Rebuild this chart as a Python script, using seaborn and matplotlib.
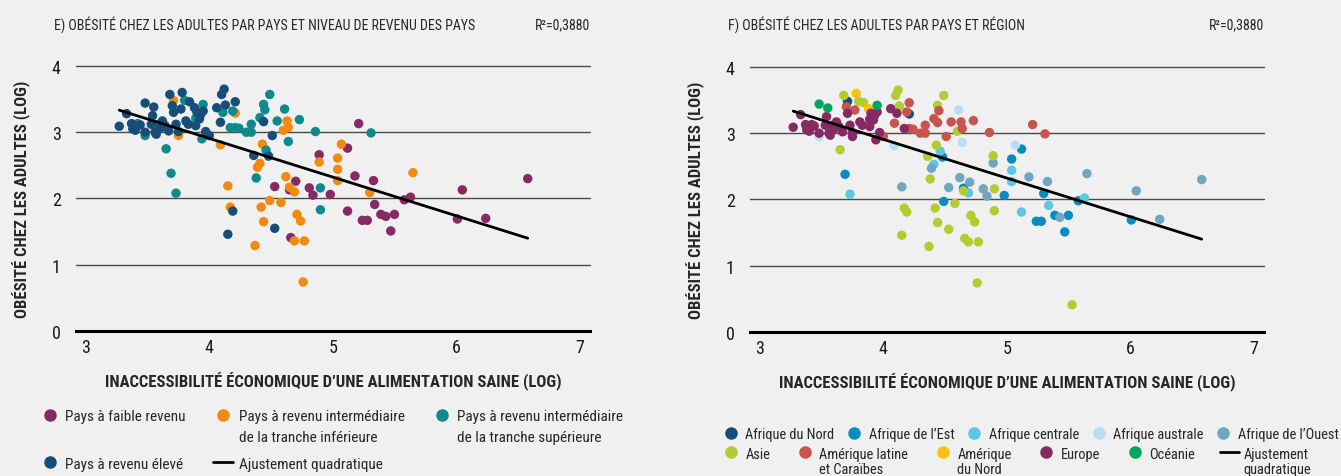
import matplotlib
matplotlib.use("Agg")
import matplotlib.pyplot as plt
from matplotlib import font_manager
from matplotlib.lines import Line2D
import seaborn as sns
import pandas as pd

# one row per country: log cost of a healthy diet, log adult obesity,
# income group (None = not classified) and region
cost_log = [
    3.27, 3.33, 3.37, 3.38, 3.40, 3.44, 3.48, 3.55, 3.54, 3.53, 3.56, 3.48,
    3.57, 3.60, 3.62, 3.64, 3.67, 3.68, 3.70, 3.71, 3.73, 3.75, 3.77, 3.78,
    3.81, 3.83, 3.84, 3.88, 3.90, 3.92, 3.89, 3.93, 3.95, 3.97, 4.00, 4.06,
    4.10, 4.12, 4.13, 4.09, 4.21, 4.44, 4.51, 4.36, 4.48, 4.19, 4.15, 4.53,
    # upper-middle
    3.42, 3.48, 3.59, 3.65, 3.69, 3.73, 3.80, 3.89, 3.94, 3.95, 4.11, 4.17,
    4.19, 4.21, 4.24, 4.30, 4.34, 4.34, 4.41, 4.44, 4.45, 4.49, 4.55, 4.61,
    4.64, 4.73, 4.46, 4.38, 4.86, 4.90, 4.90, 5.31,
    # lower-middle
    3.71, 3.75, 4.09, 4.21, 4.15, 4.17, 4.37, 4.39, 4.41, 4.43, 4.42, 4.44,
    4.49, 4.58, 4.60, 4.63, 4.64, 4.62, 4.65, 4.69, 4.71, 4.74, 4.69, 4.77,
    5.07, 5.04, 5.04, 5.04, 5.30, 5.65, 4.76, 4.89,
    # low
    5.21, 5.12, 5.18, 5.12, 4.98, 4.81, 4.84, 4.70, 4.65, 4.53, 4.66, 4.89,
    5.33, 5.24, 5.28, 5.34, 5.39, 5.43, 5.50, 5.47, 5.58, 5.63, 6.01, 6.05,
    6.24, 6.58,
    # not classified
    5.53,
]
obesity_log = [
    3.09, 3.28, 3.13, 3.05, 3.03, 3.11, 3.44, 3.38, 3.25, 3.12, 3.00, 3.00,
    2.97, 3.06, 3.17, 3.10, 3.02, 3.57, 3.40, 3.30, 3.12, 3.01, 3.35, 3.60,
    3.17, 3.12, 3.46, 3.37, 3.30, 3.20, 3.10, 3.27, 3.32, 3.01, 2.95, 3.37,
    3.57, 3.65, 3.41, 3.15, 3.46, 3.16, 2.95, 2.65, 2.64, 1.81, 1.46, 1.55,
    3.13, 2.95, 3.12, 2.75, 2.38, 2.08, 3.48, 3.21, 2.90, 3.42, 3.30, 3.07,
    3.32, 3.07, 3.06, 3.00, 3.12, 3.00, 3.22, 3.42, 3.34, 3.57, 3.17, 3.35,
    2.86, 3.19, 2.73, 2.31, 3.01, 2.16, 1.83, 2.99,
    3.48, 2.95, 2.81, 3.29, 2.19, 1.87, 1.29, 2.47, 2.53, 2.82, 1.87, 1.65,
    1.97, 1.94, 3.03, 3.17, 3.07, 2.33, 2.17, 2.10, 1.76, 1.66, 1.36, 1.36,
    2.82, 2.61, 2.44, 2.27, 2.09, 2.39, 0.74, 2.55,
    3.13, 2.76, 2.34, 1.81, 2.06, 2.16, 2.05, 2.26, 2.13, 2.18, 1.41, 2.66,
    2.27, 1.67, 1.67, 1.91, 1.76, 1.73, 1.76, 1.51, 1.98, 2.02, 1.69, 2.13,
    1.70, 2.30,
    0.41,
]
income_group = ['H'] * 48 + ['UM'] * 32 + ['LM'] * 32 + ['L'] * 26 + [None]
region = [
    'EU', 'EU', 'EU', 'EU', 'EU', 'EU', 'OC', 'OC', 'EU', 'EU', 'EU', 'EU',
    'EU', 'EU', 'EU', 'EU', 'EU', 'AS', 'AL', 'EU', 'EU', 'EU', 'AL', 'NA',
    'EU', 'EU', 'AS', 'NA', 'EU', 'EU', 'EU', 'EU', 'EU', 'EU', 'AL', 'EU',
    'AS', 'AS', 'AS', 'AL', 'AL', 'AL', 'AL', 'AS', 'AE', 'AS', 'AS', 'AS',
    'EU', 'AA', 'EU', 'AS', 'AE', 'AC', 'AS', 'EU', 'EU', 'OC', 'EU', 'EU',
    'AL', 'AL', 'AL', 'AL', 'AL', 'AL', 'AL', 'AS', 'AL', 'AS', 'AL', 'AA',
    'AA', 'AL', 'AC', 'AS', 'AL', 'AS', 'AS', 'AL',
    'AN', 'EU', 'AA', 'AN', 'AO', 'AS', 'AS', 'AO', 'AC', 'AS', 'AS', 'AS',
    'AE', 'AS', 'AS', 'AL', 'AL', 'AO', 'AE', 'AC', 'AS', 'AS', 'AS', 'AS',
    'AA', 'AE', 'AC', 'AC', 'AE', 'AO', 'AS', 'AO',
    'AL', 'AE', 'AO', 'AC', 'AE', 'AO', 'AO', 'AO', 'AS', 'AO', 'AS', 'AS',
    'AO', 'AE', 'AE', 'AC', 'AE', 'AO', 'AE', 'AE', 'AE', 'AC', 'AE', 'AO',
    'AO', 'AO',
    'AS',
]

income_order = ['L', 'LM', 'UM', 'H']
income_labels = ['Pays à faible revenu\n',
                 'Pays à revenu intermédiaire\nde la tranche inférieure',
                 'Pays à revenu intermédiaire\nde la tranche supérieure',
                 'Pays à revenu élevé']
income_colors = ['#872a63', '#f28a12', '#0f8a8c', '#174d79']

region_order = ['AN', 'AE', 'AC', 'AA', 'AO', 'AS', 'AL', 'NA', 'EU', 'OC']
region_labels = ['Afrique du Nord', 'Afrique de l’Est', 'Afrique centrale',
                 'Afrique australe', 'Afrique de l’Ouest', 'Asie',
                 'Amérique latine\net Caraïbes', 'Amérique\ndu Nord',
                 'Europe', 'Océanie']
region_colors = ['#174d79', '#0a8cc0', '#5ec6e6', '#b9def3', '#6fa6c0',
                 '#b3cc32', '#c8544f', '#fdbf12', '#872a63', '#00a660']

BG = '#f0f0f0'

sns.set_style('white')

# look for a narrow face, the reference uses a condensed type
narrow_name, narrow_stretch = None, 'normal'
prefs = ['Roboto', 'Open Sans', 'Noto Sans', 'Liberation Sans', 'DejaVu Sans', '']
entries = font_manager.fontManager.ttflist
for p in prefs:
    for f in entries:
        if not f.name.startswith(p):
            continue
        if 'Narrow' in f.name or 'Condensed' in f.name:
            narrow_name, narrow_stretch = f.name, 'normal'
        elif f.stretch in ('condensed', 'semi-condensed', 'extra-condensed'):
            narrow_name, narrow_stretch = f.name, f.stretch
        if narrow_name:
            break
    if narrow_name:
        break
if narrow_name is None:
    narrow_name = 'DejaVu Sans'
plt.rcParams['font.family'] = [narrow_name, 'DejaVu Sans']
plt.rcParams['font.stretch'] = narrow_stretch

df = pd.DataFrame({'cost': cost_log, 'obesity': obesity_log,
                   'income': income_group, 'region': region})


def style_axes(ax):
    ax.set_facecolor(BG)
    ax.set_xlim(2.92, 7.085)
    ax.set_ylim(0, 4.0)
    ax.set_xticks([3, 4, 5, 6, 7])
    ax.set_yticks([0, 1, 2, 3, 4])
    ax.tick_params(length=0, labelsize=13, colors='#1a1a1a')
    ax.tick_params(axis='y', pad=11)
    ax.tick_params(axis='x', pad=5)
    for s in ['top', 'right', 'left']:
        ax.spines[s].set_visible(False)
    ax.spines['bottom'].set_color('black')
    ax.spines['bottom'].set_linewidth(2.2)
    ax.yaxis.grid(True, color='#4a4a4a', linewidth=1.0)
    ax.xaxis.grid(False)
    ax.set_axisbelow(True)
    for line in ax.get_ygridlines():
        line.set_clip_on(False)
    ax.set_xlabel('INACCESSIBILITÉ ÉCONOMIQUE D’UNE ALIMENTATION SAINE (LOG)',
                  fontsize=12, fontweight='bold', labelpad=11)
    ax.set_ylabel('OBÉSITÉ CHEZ LES ADULTES (LOG)', fontsize=12,
                  fontweight='bold', labelpad=15)


def top_align(leg):
    # put the marker beside the first line of two-line labels
    leg._legend_handle_box.align = 'top'
    for col in leg._legend_handle_box.get_children():
        col.align = 'left'
        for item in col.get_children():
            item.align = 'top'


fig = plt.figure(figsize=(13.41, 4.77), dpi=100, facecolor=BG)
ax_e = fig.add_axes([0.0567, 0.304, 0.3833, 0.5556])
ax_f = fig.add_axes([0.5593, 0.302, 0.3833, 0.5556])

# E) by income group
df_e = df.dropna(subset=['income']).copy()
df_e['income'] = pd.Categorical(df_e['income'], categories=income_order, ordered=True)
df_e = df_e.sort_values('income', kind='stable')
sns.scatterplot(data=df_e, x='cost', y='obesity', hue='income', hue_order=income_order,
                palette=dict(zip(income_order, income_colors)), s=46, linewidth=0,
                alpha=1, legend=False, ax=ax_e, zorder=3)
sns.regplot(data=df_e, x='cost', y='obesity', order=1, scatter=False, ci=None,
            color='black', line_kws={'linewidth': 2.0, 'zorder': 4}, ax=ax_e)
style_axes(ax_e)

# F) by region
df_f = df.copy()
df_f['region'] = pd.Categorical(df_f['region'], categories=region_order, ordered=True)
df_f = df_f.sort_values('region', kind='stable')
sns.scatterplot(data=df_f, x='cost', y='obesity', hue='region', hue_order=region_order,
                palette=dict(zip(region_order, region_colors)), s=46, linewidth=0,
                alpha=1, legend=False, ax=ax_f, zorder=3)
sns.regplot(data=df_e, x='cost', y='obesity', order=1, scatter=False, ci=None,
            color='black', line_kws={'linewidth': 2.0, 'zorder': 4}, ax=ax_f)
style_axes(ax_f)

# titles
fs_title = 10.0 if narrow_name != 'DejaVu Sans' else 8
fig.text(0.0403, 0.948, 'E) OBÉSITÉ CHEZ LES ADULTES PAR PAYS ET NIVEAU DE REVENU DES PAYS',
         fontsize=fs_title, va='center', ha='left')
fig.text(0.440, 0.948, 'R²=0,3880', fontsize=fs_title, va='center', ha='right')
fig.text(0.5427, 0.948, 'F) OBÉSITÉ CHEZ LES ADULTES PAR PAYS ET RÉGION',
         fontsize=fs_title, va='center', ha='left')
fig.text(0.9426, 0.948, 'R²=0,3880', fontsize=fs_title, va='center', ha='right')


def dot(c):
    return Line2D([], [], marker='o', linestyle='', color=c, markersize=8)


fit_handle = Line2D([], [], color='black', linewidth=2)
fs_leg = 11 if narrow_name != 'DejaVu Sans' else 9
fs_leg_f = 10.4 if narrow_name != 'DejaVu Sans' else 8.5
leg_kw = dict(loc='upper left', frameon=False, handlelength=1.3,
              handletextpad=0.35, borderaxespad=0, borderpad=0)

# legend E (reordered so the 3 columns read row by row)
h_inc = [dot(c) for c in income_colors]
handles_e = [h_inc[0], h_inc[3], h_inc[1], fit_handle, h_inc[2]]
labels_e = [income_labels[0], income_labels[3], income_labels[1],
            'Ajustement quadratique', income_labels[2]]
leg_e = fig.legend(handles_e, labels_e, ncol=3, bbox_to_anchor=(0.030, 0.140),
                   columnspacing=1.8, labelspacing=0.85, fontsize=fs_leg, **leg_kw)
for t in leg_e.get_texts():
    t.set_linespacing(1.6)
top_align(leg_e)

# legend F, two independent rows
h_reg = [dot(c) for c in region_colors]
leg_f1 = fig.legend(h_reg[:5], region_labels[:5], ncol=5,
                    bbox_to_anchor=(0.538, 0.102), columnspacing=0.72,
                    fontsize=fs_leg_f, **leg_kw)
leg_f2 = fig.legend(h_reg[5:] + [fit_handle], region_labels[5:] + ['Ajustement\nquadratique'],
                    ncol=6, bbox_to_anchor=(0.538, 0.060), columnspacing=1.75,
                    fontsize=fs_leg_f, **leg_kw)
for t in leg_f2.get_texts():
    t.set_linespacing(1.1)
top_align(leg_f2)

fig.savefig('out.png', dpi=100, facecolor=BG)
